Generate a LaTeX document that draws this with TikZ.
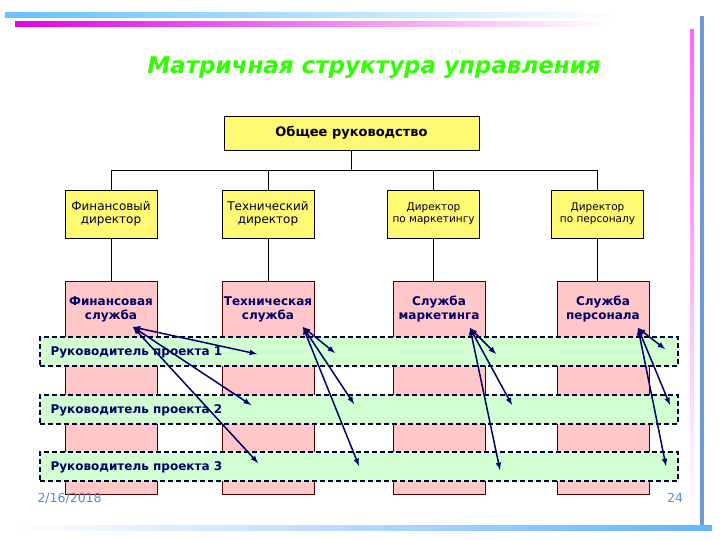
\documentclass[tikz,border=0pt]{standalone}
\usepackage{fontspec}
\setmainfont{DejaVu Sans}
\begin{document}
\begin{tikzpicture}[x=1pt,y=-1pt,
  dir/.style={draw=black,fill=yellow!55,minimum width=92pt,minimum height=48pt,align=center,inner sep=1pt,font=\fontsize{12}{13}\selectfont\color{black!85!blue}},
  sdir/.style={font=\fontsize{10.5}{12}\selectfont\color{black!85!blue}},
  svc/.style={draw=black!70!red,fill=red!22!white,minimum width=92pt,minimum height=213pt,inner sep=0pt},
  band/.style={draw=black!80!blue,dashed,line width=1.3pt,dash pattern=on 5pt off 3pt,fill=green!18!white,minimum width=638pt,minimum height=29pt,inner sep=0pt},
  lab/.style={font=\bfseries\fontsize{12}{14}\selectfont,text=black!60!blue,align=center},
  arr/.style={latex-latex,draw=black!60!blue,line width=1.5pt},
  conn/.style={draw=black,line width=0.5pt}]
\useasboundingbox (0,0) rectangle (720,540);
\fill[white] (0,0) rectangle (720,540);
% decoration
\shade[left color=cyan!60!blue!60,right color=white] (5,13) rectangle (620,18);
\shade[left color=magenta!80!violet,right color=white] (15,22) rectangle (610,27);
\fill[cyan!50!blue!60] (700,16) rectangle (704,530);
\shade[top color=magenta!60,bottom color=white] (690,30) rectangle (694,520);
\shade[left color=white,right color=cyan!50!blue!60] (15,525) rectangle (712,530);
% title
\node[font=\bfseries\itshape\fontsize{23}{26}\selectfont,text=green!75!lime] (title) at (374,68) {Матричная структура управления};
% top
\node[draw=black,fill=yellow!55,minimum width=255pt,minimum height=34pt,font=\bfseries\fontsize{13}{15}\selectfont] (top) at (351.5,133) {Общее руководство};
% services (behind bands)
\node[svc] (s1) at (111,387.5) {};
\node[svc] (s2) at (268,387.5) {};
\node[svc] (s3) at (439,388) {};
\node[svc] (s4) at (603,388) {};
\node[lab] (t1) at (111,309) {Финансовая\\служба};
\node[lab] (t2) at (268,309) {Техническая\\служба};
\node[lab] (t3) at (439,309) {Служба\\маркетинга};
\node[lab] (t4) at (603,309) {Служба\\персонала};
% directors
\node[dir] (d1) at (111,214) {Финансовый\\директор};
\node[dir] (d2) at (268,214) {Технический\\директор};
\node[dir,sdir] (d3) at (433.5,214) {Директор\\по маркетингу};
\node[dir,sdir] (d4) at (597.5,214) {Директор\\по персоналу};
\coordinate (hl) at (111,170);
\coordinate (hr) at (597.5,170);
\draw[conn] (top.south) -- (351.5,170);
\draw[conn] (hl) -- (hr);
\foreach \d in {d1,d2,d3,d4} \draw[conn] (\d.north) -- (\d.north |- hl);
\draw[conn] (d1.south) -- (d1.south |- s1.north);
\draw[conn] (d2.south) -- (d2.south |- s2.north);
\draw[conn] (d3.south) -- (d3.south |- s3.north);
\draw[conn] (d4.south) -- (d4.south |- s4.north);
% bands
\node[band] (b1) at (359,351.5) {};
\node[band] (b2) at (359,409.5) {};
\node[band] (b3) at (359,466.5) {};
\node[lab,anchor=west] (l1) at (47,352) {Руководитель проекта 1};
\node[lab,anchor=west] (l2) at (47,410) {Руководитель проекта 2};
\node[lab,anchor=west] (l3) at (47,467) {Руководитель проекта 3};
% arrows
\coordinate (o1) at (133,327); \coordinate (o2) at (303,327);
\coordinate (o3) at (470,328); \coordinate (o4) at (638,328);
\coordinate (a11) at (257,354); \coordinate (a12) at (251,405); \coordinate (a13) at (258,463);
\coordinate (a21) at (335,353); \coordinate (a22) at (354,404); \coordinate (a23) at (359,466);
\coordinate (a31) at (496,354); \coordinate (a32) at (512,405); \coordinate (a33) at (500,470);
\coordinate (a41) at (665,349); \coordinate (a42) at (670,405); \coordinate (a43) at (666,466);
\foreach \i in {1,2,3,4} \foreach \j in {1,2,3} \draw[arr] (o\i) -- (a\i\j);
% footer
\node[text=cyan!50!blue!70,font=\fontsize{12.5}{14}\selectfont,anchor=west] (date) at (34,498) {2/16/2018};
\node[text=cyan!50!blue!70,font=\fontsize{12.5}{14}\selectfont] (num) at (675,498) {24};
\end{tikzpicture}
\end{document}
